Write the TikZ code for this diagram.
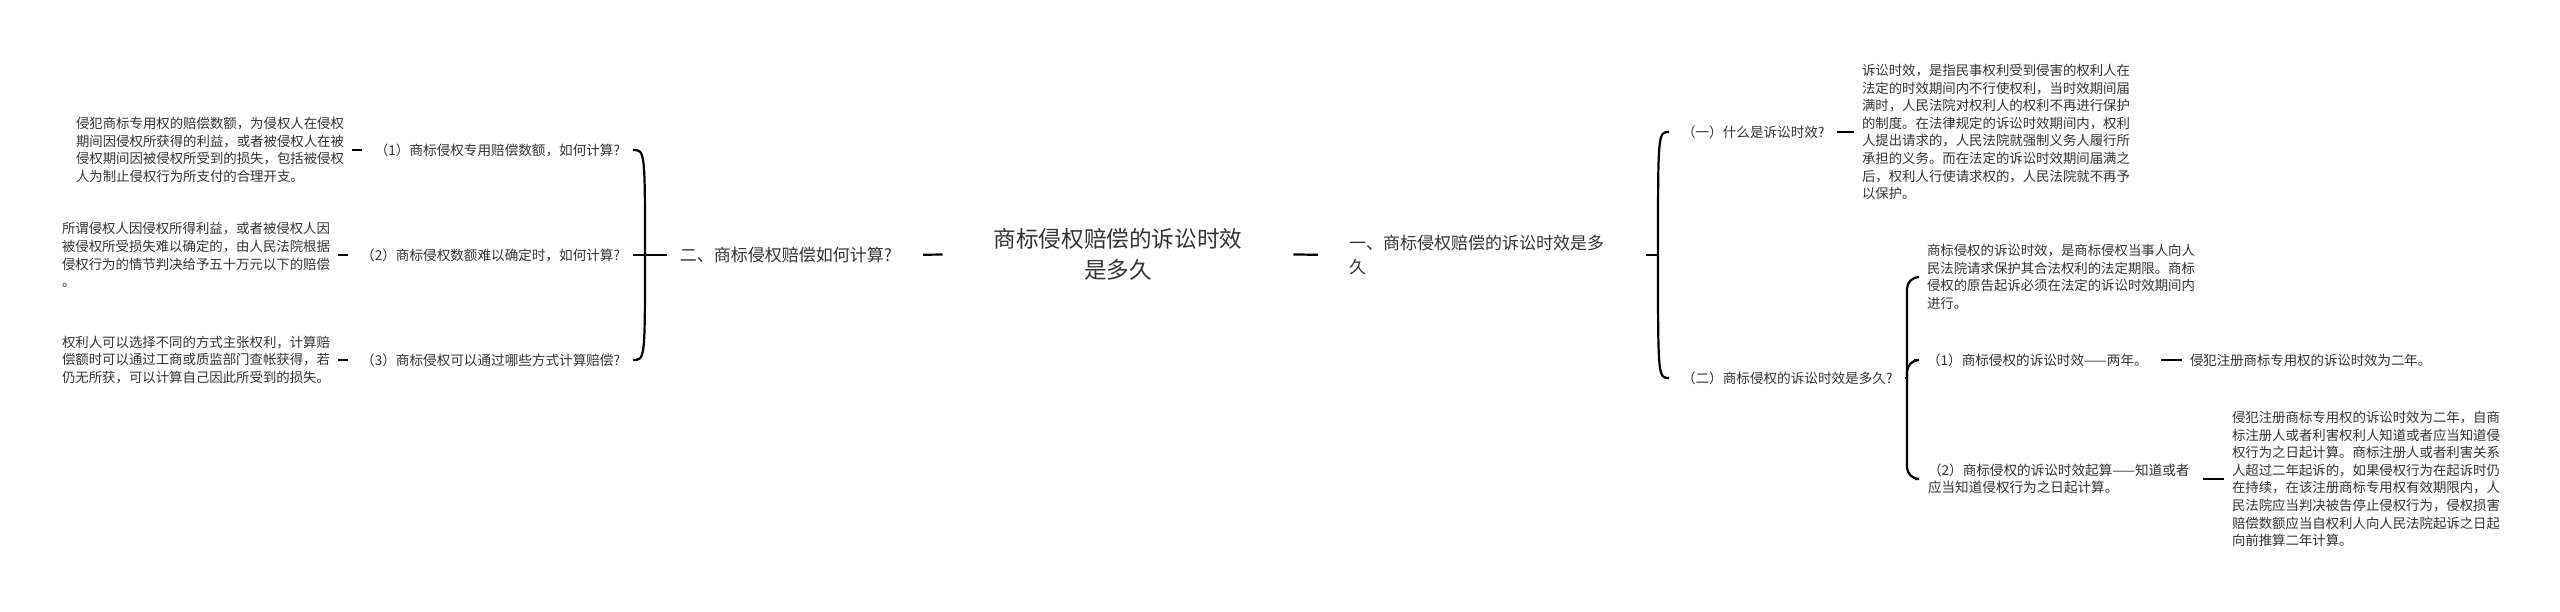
\documentclass[tikz,border=0pt]{standalone}
\usepackage{fontspec}
\setmainfont{Noto Sans CJK SC}
\usetikzlibrary{positioning}
\definecolor{txt}{HTML}{333333}

\begin{document}
\begin{tikzpicture}[x=0.5pt,y=-0.5pt,
  every node/.style={text=txt,outer sep=0pt},
  root/.style={align=center,inner xsep=6.5pt,font=\fontsize{11.3pt}{15.5pt}\selectfont},
  main/.style={align=left,inner xsep=6.5pt,inner ysep=1pt,font=\fontsize{8.5pt}{12pt}\selectfont},
  sub/.style={align=left,inner xsep=6.5pt,inner ysep=1pt,font=\fontsize{6.8pt}{8.7pt}\selectfont},
  leaf/.style={align=left,inner xsep=4pt,inner ysep=1pt,font=\fontsize{6.7pt}{8.8pt}\selectfont},
  line/.style={line width=1.1pt},
  stub/.style={line,shorten <=19pt,shorten >=9pt}]
\useasboundingbox (0,0) rectangle (2560,611);

\node[root] (root) at (1118,254) {商标侵权赔偿的诉讼时效\\是多久};
\node[main,anchor=east] (b2) at (905,255) {二、商标侵权赔偿如何计算?};
\node[main,anchor=west,text width=142pt] (b1) at (1336,255) {一、商标侵权赔偿的诉讼时效是多\\久};

\coordinate (j2) at (645,255);
\node[sub,anchor=east] (c1) at (633,150) {（1）商标侵权专用赔偿数额，如何计算?};
\node[sub,anchor=east] (c2) at (633,255) {（2）商标侵权数额难以确定时，如何计算?};
\node[sub,anchor=east] (c3) at (633,360) {（3）商标侵权可以通过哪些方式计算赔偿?};
\node[leaf,anchor=east] (l1) at (352,150) {侵犯商标专用权的赔偿数额，为侵权人在侵权\\期间因侵权所获得的利益，或者被侵权人在被\\侵权期间因被侵权所受到的损失，包括被侵权\\人为制止侵权行为所支付的合理开支。};
\node[leaf,anchor=east] (l2) at (338,255) {所谓侵权人因侵权所得利益，或者被侵权人因\\被侵权所受损失难以确定的，由人民法院根据\\侵权行为的情节判决给予五十万元以下的赔偿\\。};
\node[leaf,anchor=east] (l3) at (338,360) {权利人可以选择不同的方式主张权利，计算赔\\偿额时可以通过工商或质监部门查帐获得，若\\仍无所获，可以计算自己因此所受到的损失。};

\coordinate (j1) at (1658,255);
\node[sub,anchor=west] (d1) at (1669,132) {（一）什么是诉讼时效?};
\node[sub,anchor=west] (d2) at (1669,378) {（二）商标侵权的诉讼时效是多久?};
\node[leaf,anchor=west] (m1) at (1854,132) {诉讼时效，是指民事权利受到侵害的权利人在\\法定的时效期间内不行使权利，当时效期间届\\满时，人民法院对权利人的权利不再进行保护\\的制度。在法律规定的诉讼时效期间内，权利\\人提出请求的，人民法院就强制义务人履行所\\承担的义务。而在法定的诉讼时效期间届满之\\后，权利人行使请求权的，人民法院就不再予\\以保护。};

\coordinate (j3) at (1907,378);
\node[leaf,anchor=west] (m2) at (1919,277) {商标侵权的诉讼时效，是商标侵权当事人向人\\民法院请求保护其合法权利的法定期限。商标\\侵权的原告起诉必须在法定的诉讼时效期间内\\进行。};
\node[sub,anchor=west] (e1) at (1914,360) {（1）商标侵权的诉讼时效——两年。};
\node[leaf,anchor=west] (m3) at (2182,360) {侵犯注册商标专用权的诉讼时效为二年。};
\node[sub,anchor=west] (e2) at (1915,479) {（2）商标侵权的诉讼时效起算——知道或者\\应当知道侵权行为之日起计算。};
\node[leaf,anchor=west] (m4) at (2224,479) {侵犯注册商标专用权的诉讼时效为二年，自商\\标注册人或者利害权利人知道或者应当知道侵\\权行为之日起计算。商标注册人或者利害关系\\人超过二年起诉的，如果侵权行为在起诉时仍\\在持续，在该注册商标专用权有效期限内，人\\民法院应当判决被告停止侵权行为，侵权损害\\赔偿数额应当自权利人向人民法院起诉之日起\\向前推算二年计算。};

\draw[stub] (root.west) -- (b2.east);
\draw[stub] (root.east) -- (b1.west);
\draw[line] (b2.west) -- (j2);
\foreach \c in {c1,c2,c3}
  \draw[line] (j2) .. controls (j2 |- \c.east) .. (\c.east);
\draw[line] (c1.west) -- (l1.east);
\draw[line] (c2.west) -- (l2.east);
\draw[line] (c3.west) -- (l3.east);
\draw[line] (b1.east) -- (j1);
\foreach \d in {d1,d2}
  \draw[line] (j1) .. controls (j1 |- \d.west) .. (\d.west);
\draw[line] (d1.east) -- (m1.west);
\draw[line] (d2.east) -- (j3);
\foreach \e in {m2,e1,e2}
  \draw[line,rounded corners=6pt] (j3) |- (\e.west);
\draw[line] (e1.east) -- (m3.west);
\draw[line] (e2.east) -- (m4.west);
\end{tikzpicture}
\end{document}
